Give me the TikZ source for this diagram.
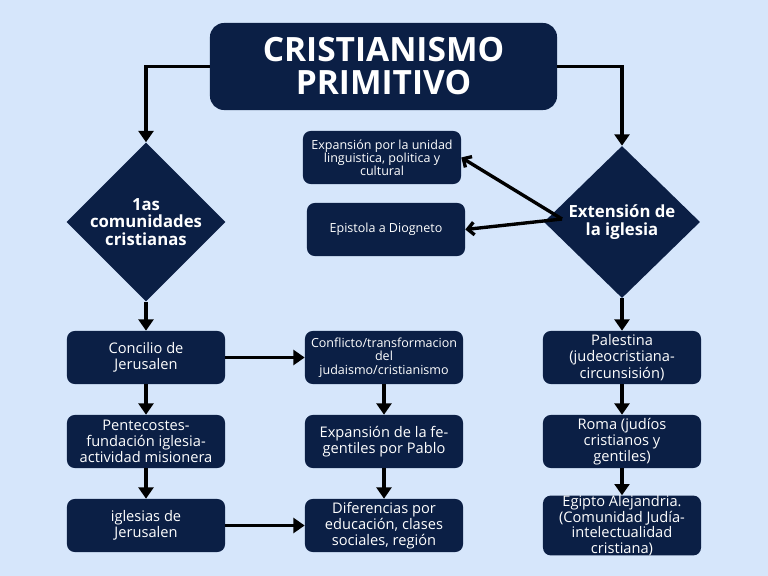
\documentclass[tikz,border=0pt]{standalone}
\usepackage{fontspec}
\setmainfont{Open Sans}
\usetikzlibrary{arrows.meta, shapes.geometric}
\definecolor{pagebg}{HTML}{D6E6FB}
\definecolor{navy}{HTML}{0B1F45}

\begin{document}
\begin{tikzpicture}[x=0.025cm, y=-0.025cm,
  box/.style={fill=navy, text=white, rounded corners=5.5pt, minimum width=3.95cm,
    minimum height=1.325cm, inner sep=0pt, align=center,
    font=\fontsize{10.4}{11.6}\selectfont},
  smallbox/.style={box, font=\fontsize{8.9}{9.4}\selectfont},
  choice/.style={diamond, fill=navy, text=white, minimum width=3.9cm,
    minimum height=3.8cm, inner sep=0pt, align=center,
    font=\bfseries\fontsize{11.9}{12.4}\selectfont},
  link/.style={line width=2.4pt, -{Triangle[length=8pt, width=10.5pt]}},
  barb/.style={line width=2.4pt, -{Straight Barb[length=4.5pt, width=9pt]}}]

  % ── page ──
  \fill[pagebg] (0,0) rectangle (768,576);
  \useasboundingbox (0,0) rectangle (768,576);

  % ── title ──
  \node[fill=navy, text=white, rounded corners=10pt, minimum width=8.675cm,
    minimum height=2.175cm, align=center,
    font=\bfseries\fontsize{23.8}{23.5}\selectfont] (titulo) at (383.5,66.5)
    {CRISTIANISMO\\PRIMITIVO};

  % ── diamonds ──
  \node[choice] (comunidades) at (146,222) {1as\\comunidades\\cristianas};
  \node[choice] (extension) at (622,222) {Extensión de\\la iglesia};
  \coordinate (extsrc) at (562,219);

  % ── upper middle boxes ──
  \node[smallbox] (unidad) at (382,157.5)
    {Expansión por la unidad\\linguistica, politica y\\cultural};
  \node[smallbox] (diogneto) at (386,229.5) {Epistola a Diogneto};

  % ── left column ──
  \node[box] (concilio) at (146,357.5) {Concilio de\\Jerusalen};
  \node[box] (pentecostes) at (146,441.5)
    {Pentecostes-\\fundación iglesia-\\actividad misionera};
  \node[box] (iglesias) at (146,525.5) {iglesias de\\Jerusalen};

  % ── middle column ──
  \node[smallbox] (conflicto) at (384,357.5)
    {Conflicto/transformacion\\del\\judaismo/cristianismo};
  \node[box] (pablo) at (384,441.5) {Expansión de la fe-\\gentiles por Pablo};
  \node[box] (diferencias) at (384,525.5)
    {Diferencias por\\educación, clases\\sociales, región};

  % ── right column ──
  \node[box] (palestina) at (622,357.5)
    {Palestina\\(judeocristiana-\\circunsisión)};
  \node[box] (roma) at (622,441.5) {Roma (judíos\\cristianos y\\gentiles)};
  \node[box, font=\fontsize{10.4}{11}\selectfont] (egipto) at (622,525.5)
    {Egipto Alejandria.\\(Comunidad Judía-\\intelectualidad\\cristiana)};

  % ── connectors ──
  \draw[link] (titulo.west) -| (comunidades.north);
  \draw[link] (titulo.east) -| (extension.north);
  \draw[barb] (extsrc) -- (unidad.east);
  \draw[barb] (extsrc) -- (diogneto.east);

  \draw[link] (comunidades.south) -- (concilio.north);
  \draw[link] (concilio) -- (pentecostes);
  \draw[link] (pentecostes) -- (iglesias);
  \draw[link] (concilio) -- (conflicto);
  \draw[link] (iglesias) -- (diferencias);

  \draw[link] (conflicto) -- (pablo);
  \draw[link] (pablo) -- (diferencias);

  \draw[link] (extension.south) -- (palestina.north);
  \draw[link] (palestina) -- (roma);
  \draw[link] (roma) -- (egipto);
\end{tikzpicture}
\end{document}
